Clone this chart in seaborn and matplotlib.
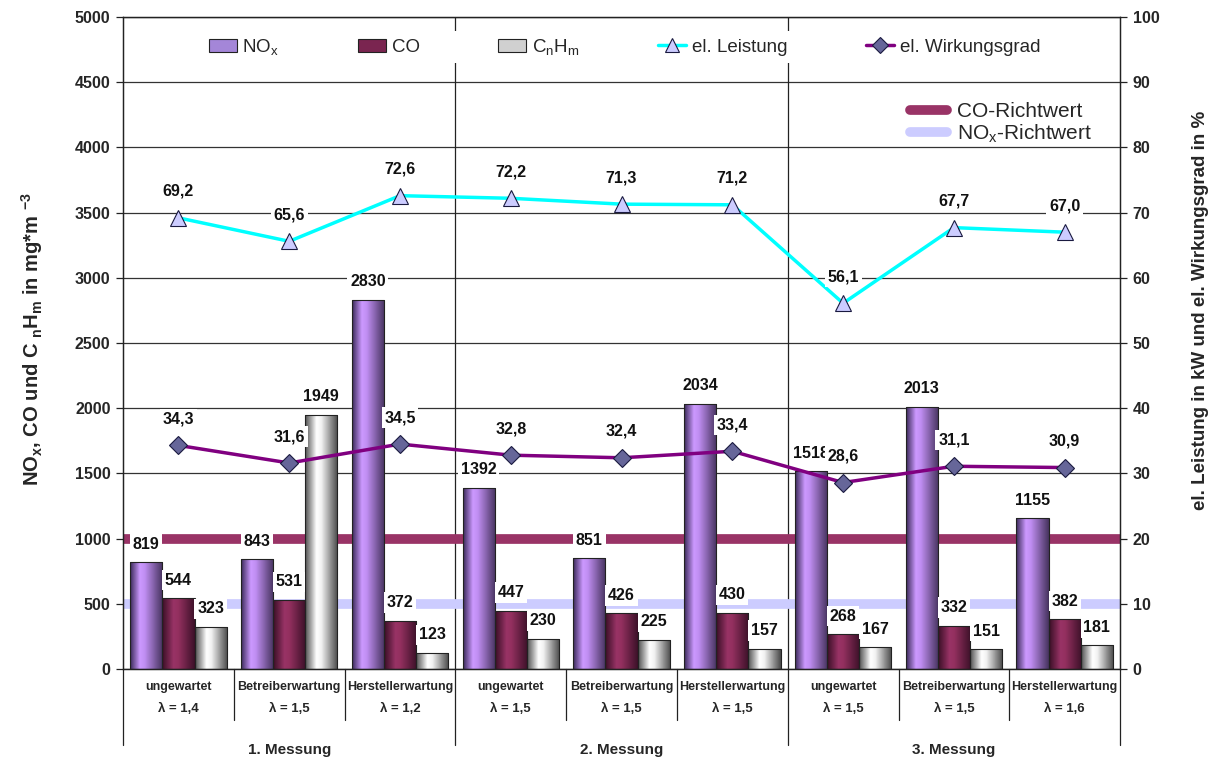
import numpy as np
import pandas as pd
import matplotlib
matplotlib.use('Agg')
import matplotlib.pyplot as plt
import matplotlib.transforms as mtransforms
from matplotlib.colors import LinearSegmentedColormap
from matplotlib.lines import Line2D
from matplotlib.patches import Patch
import seaborn as sns

# Daten
kategorien = ['ungewartet', 'Betreiberwartung', 'Herstellerwartung'] * 3
lambdas = ['λ = 1,4', 'λ = 1,5', 'λ = 1,2',
           'λ = 1,5', 'λ = 1,5', 'λ = 1,5',
           'λ = 1,5', 'λ = 1,5', 'λ = 1,6']
messungen = ['1. Messung', '2. Messung', '3. Messung']

nox = [819, 843, 2830, 1392, 851, 2034, 1518, 2013, 1155]
co = [544, 531, 372, 447, 426, 430, 268, 332, 382]
cnhm = [323, 1949, 123, 230, 225, 157, 167, 151, 181]
leistung = [69.2, 65.6, 72.6, 72.2, 71.3, 71.2, 56.1, 67.7, 67.0]
wirkungsgrad = [34.3, 31.6, 34.5, 32.8, 32.4, 33.4, 28.6, 31.1, 30.9]
co_richtwert = 1000
nox_richtwert = 500

sns.set_theme(style='white')
plt.rcParams['font.family'] = ['Liberation Sans', 'DejaVu Sans']
plt.rcParams['mathtext.fontset'] = 'custom'
plt.rcParams['mathtext.rm'] = 'Liberation Sans'
plt.rcParams['mathtext.bf'] = 'Liberation Sans:bold'
plt.rcParams['mathtext.it'] = 'Liberation Sans:italic'

pos = np.arange(len(nox))
df = pd.DataFrame({
    'pos': np.tile(pos, 3),
    'stoff': ['NOx'] * 9 + ['CO'] * 9 + ['CnHm'] * 9,
    'wert': nox + co + cnhm,
})

cmaps = [
    LinearSegmentedColormap.from_list('nox', [(0, '#3b2a5a'), (0.3, '#cc99ff'), (0.45, '#c08ef2'), (1, '#47335f')]),
    LinearSegmentedColormap.from_list('co', [(0, '#3a0f26'), (0.35, '#993366'), (0.5, '#93305f'), (1, '#3d1129')]),
    LinearSegmentedColormap.from_list('cnhm', [(0, '#505050'), (0.35, '#ffffff'), (0.5, '#f2f2f2'), (1, '#4a4a4a')]),
]

fig = plt.figure(figsize=(12.16, 7.6), dpi=100)
ax = fig.add_axes([0.1012, 0.1197, 0.8199, 0.8579])

sns.barplot(data=df, x='pos', y='wert', hue='stoff', hue_order=['NOx', 'CO', 'CnHm'],
            palette=['#a486d8', '#7a2550', '#d0d0d0'], saturation=1, width=0.87,
            edgecolor='#222222', linewidth=0.8, legend=False, ax=ax, zorder=2)

# Farbverlauf in den Balken
grad = np.linspace(0, 1, 64).reshape(1, -1)
for cont, cm in zip(ax.containers, cmaps):
    for bar in cont:
        x0, y0 = bar.get_x(), bar.get_y()
        w, h = bar.get_width(), bar.get_height()
        im = ax.imshow(grad, cmap=cm, extent=(x0, x0 + w, y0, y0 + h), aspect='auto',
                       zorder=1.9, interpolation='bilinear')
        im.set_clip_path(bar)
        bar.set_facecolor('none')

ax.set_xlim(-0.5, 8.5)
ax.set_ylim(0, 5000)
ax.set_yticks(np.arange(0, 5001, 500))
ax.set_xticks([])
ax.set_xlabel('')
ax.set_ylabel('')
ax.set_axisbelow(True)
ax.yaxis.grid(True, color='#333333', lw=0.9)
ax.tick_params(axis='y', left=True, length=5, width=0.9, color='#222222', pad=4,
               labelsize=11.5)
for t in ax.get_yticklabels():
    t.set_fontweight('bold')
for s in ax.spines.values():
    s.set_color('#222222')
    s.set_linewidth(0.9)

# Richtwerte
ax.axhline(co_richtwert, color='#993366', lw=7, zorder=1.5)
ax.axhline(nox_richtwert, color='#ccccff', lw=7, zorder=1.5)

# Trennlinien der Messungen
for b in [2.5, 5.5]:
    ax.axvline(b, color='#222222', lw=0.9, zorder=1.2)

# Beschriftung der Balken
for cont, werte in zip(ax.containers, [nox, co, cnhm]):
    for bar, v in zip(cont, werte):
        ax.annotate(str(v), (bar.get_x() + bar.get_width() / 2, v), xytext=(0, 13),
                    textcoords='offset points', ha='center', va='center',
                    fontsize=11.5, fontweight='bold', color='#111111', zorder=5,
                    bbox=dict(fc='white', ec='none', pad=2))

# zweite Achse
ax2 = ax.twinx()
sns.lineplot(x=pos, y=leistung, ax=ax2, color='#00ffff', lw=2.5, marker='^', markersize=12,
             markerfacecolor='#ccccff', markeredgecolor='#1a1a40', markeredgewidth=0.8)
sns.lineplot(x=pos, y=wirkungsgrad, ax=ax2, color='#800080', lw=2.5, marker='D', markersize=9,
             markerfacecolor='#666699', markeredgecolor='#1a1a40', markeredgewidth=0.8)
ax2.set_ylim(0, 100)
ax2.set_yticks(np.arange(0, 101, 10))
ax2.set_ylabel('')
ax2.tick_params(axis='y', right=True, length=5, width=0.9, color='#222222', pad=4,
                labelsize=11.5)
for t in ax2.get_yticklabels():
    t.set_fontweight('bold')
ax2.grid(False)
for s in ax2.spines.values():
    s.set_color('#222222')
    s.set_linewidth(0.9)

for werte in [leistung, wirkungsgrad]:
    for x, v in zip(pos, werte):
        ax2.annotate(f'{v:.1f}'.replace('.', ','), (x, v), xytext=(0, 19),
                     textcoords='offset points', ha='center', va='center',
                     fontsize=11.5, fontweight='bold', color='#111111',
                     bbox=dict(fc='white', ec='none', pad=2))

# Kategorienachse unten
trans = mtransforms.blended_transform_factory(ax.transData, ax.transAxes)
for i in pos:
    ax.text(i, -0.027, kategorien[i], transform=trans, ha='center', va='center',
            fontsize=9, fontweight='bold')
    ax.text(i, -0.061, lambdas[i], transform=trans, ha='center', va='center',
            fontsize=9.5, fontweight='bold')
for g, name in enumerate(messungen):
    ax.text(3 * g + 1, -0.124, name, transform=trans, ha='center', va='center',
            fontsize=11, fontweight='bold')
for b in [0.5, 1.5, 3.5, 4.5, 6.5, 7.5]:
    ax.add_line(Line2D([b, b], [0, -0.078], transform=trans, color='#222222', lw=0.9,
                       clip_on=False))
for b in [-0.5, 2.5, 5.5, 8.5]:
    ax.add_line(Line2D([b, b], [0, -0.117], transform=trans, color='#222222', lw=0.9,
                       clip_on=False))

# Achsentitel
fig.text(0.026, 0.554, r'NO$_\mathbf{x}$, CO und C $_\mathbf{n}$H$_\mathbf{m}$ in mg*m $^\mathbf{-3}$',
         rotation=90, ha='center', va='center', fontsize=14.5, fontweight='bold')
fig.text(0.987, 0.591, 'el. Leistung in kW und el. Wirkungsgrad in %',
         rotation=90, ha='center', va='center', fontsize=13.5, fontweight='bold')

# Legenden
h1 = [
    Patch(fc='#a486d8', ec='#222222', lw=0.8),
    Patch(fc='#7a2550', ec='#222222', lw=0.8),
    Patch(fc='#d0d0d0', ec='#222222', lw=0.8),
    Line2D([], [], color='#00ffff', lw=2.5, marker='^', markersize=10,
           markerfacecolor='#ccccff', markeredgecolor='#1a1a40', markeredgewidth=0.8),
    Line2D([], [], color='#800080', lw=2.5, marker='D', markersize=8,
           markerfacecolor='#666699', markeredgecolor='#1a1a40', markeredgewidth=0.8),
]
l1 = ax2.legend(h1, [r'NO$_\mathrm{x}$', 'CO', r'C$_\mathrm{n}$H$_\mathrm{m}$',
                     'el. Leistung', 'el. Wirkungsgrad'],
                loc='center', bbox_to_anchor=(0.503, 0.954), ncol=5, fontsize=13.5,
                frameon=True, facecolor='white', edgecolor='none', framealpha=1,
                fancybox=False, columnspacing=4.2, handlelength=1.5, handletextpad=0.3,
                borderpad=0.3)
ax2.add_artist(l1)
h2 = [Line2D([], [], color='#993366', lw=7), Line2D([], [], color='#ccccff', lw=7)]
ax2.legend(h2, ['CO-Richtwert', r'NO$_\mathrm{x}$-Richtwert'], loc='upper right',
           bbox_to_anchor=(0.983, 0.885), fontsize=15, frameon=False, borderpad=0,
           labelspacing=0.05, handlelength=1.8, handletextpad=0.5)

fig.savefig('out.png', dpi=100)
